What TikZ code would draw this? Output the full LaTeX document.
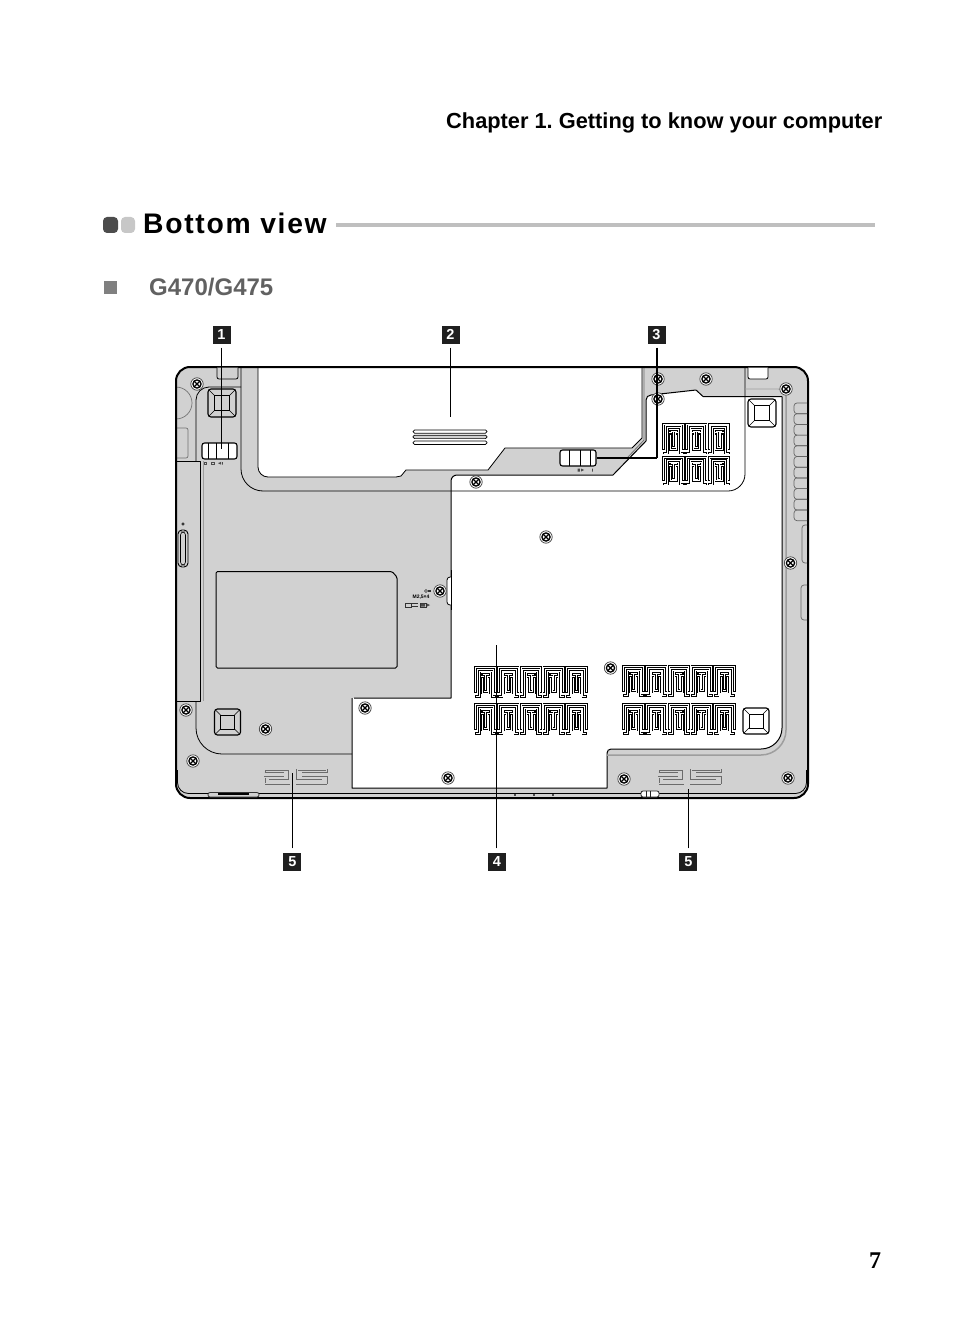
\documentclass[tikz,border=0pt]{standalone}
\usepackage{fontspec}
\setmainfont{Liberation Sans}
\newfontfamily\headfont[LetterSpace=6]{Liberation Sans}
\newfontfamily\pagefont{Liberation Serif}
\frenchspacing
\definecolor{body}{gray}{0.82}
\definecolor{band}{gray}{0.62}
\tikzset{
  outl/.style={draw=black,line width=0.8pt,line join=round},
  tag/.style={fill=black!88,text=white,inner sep=0pt,minimum width=18pt,minimum height=18pt,font=\bfseries\fontsize{14.5}{14.5}\selectfont},
  leader/.style={draw=black,line width=0.8pt},
  slotout/.style={draw=black,line width=2.5pt,line cap=rect,line join=miter},
  slotin/.style={draw=white,line width=0.95pt,line join=miter},
  gslot/.style={draw=black!58,line width=0.55pt,double=body,double distance=0.9pt,line join=miter},
  latchbox/.style={draw=black,line width=1.1pt,fill=white,rounded corners=2.5pt,inner sep=0pt},
  tinytxt/.style={inner sep=0pt,font=\bfseries\fontsize{5}{5}\selectfont},
  txt/.style={inner sep=0pt,anchor=base west}
}
\newcommand{\myscrew}[2]{%
  \begin{scope}[shift={(#1,#2)}]
    \draw[black!75,line width=0.7pt,fill=white] (0,0) circle (6.2);
    \draw[black,line width=1.3pt] (0,0) circle (4.1);
    \draw[black,line width=1.3pt] (-2.7,-2.7) -- (2.7,2.7) (-2.7,2.7) -- (2.7,-2.7);
  \end{scope}}
\newcommand{\myfoot}[4]{%
  \begin{scope}[shift={(#1,#2)},scale=#3]
    \draw[black,line width=1.1pt,fill=#4,rounded corners=3pt] (-14,-14) rectangle (14,14);
    \draw[black,line width=0.5pt] (-7.5,-7.5) rectangle (7.5,7.5);
    \draw[black,line width=0.5pt] (-13,-13) -- (-7.5,-7.5) (13,-13) -- (7.5,-7.5) (-13,13) -- (-7.5,7.5) (13,13) -- (7.5,7.5);
  \end{scope}}
% one meander unit, 22.7 wide and 32 high at scale 1
\newcommand{\ventpaths}[1]{%
  \draw[#1] (1.2,26) -- (1.2,1.5) -- (21,1.5) -- (21,26);
  \draw[#1] (1.5,30.6) -- (4.8,30.6) -- (4.8,5) -- (17.6,5) -- (17.6,30.6) -- (20.9,30.6);
  \draw[#1] (8,12.2) -- (8,27) -- (14.4,27) -- (14.4,12.2);
  \draw[#1] (11.2,23.6) -- (11.2,8.6);
  \draw[#1] (8,8.6) -- (14.4,8.6);}
\newcommand{\ventunit}[3]{%
  \begin{scope}[shift={({#1},{#2})},yscale=#3]
    \ventpaths{slotout}
    \ventpaths{slotin}
  \end{scope}}
\newcommand{\ventrow}[4]{% x, y, count, yscale
  \foreach \k in {1,...,#3} {\pgfmathsetmacro{\vx}{#1+22.7*(\k-1)}\ventunit{\vx}{#2}{#4}}}
\newcommand{\spk}[1]{%
  \begin{scope}[shift={(#1,768)}]
    \draw[gslot] (0.5,5) -- (0.5,1.5) -- (25,1.5) -- (25,12);
    \draw[gslot] (0.5,5) -- (20,5);
    \draw[gslot] (0.5,15.5) -- (0.5,9) -- (20,9);
    \draw[gslot] (0.5,15.5) -- (26,15.5);
    \draw[gslot] (5,12.3) -- (25,12.3);
    \draw[gslot] (62.5,5) -- (62.5,1.5) -- (33,1.5) -- (33,12);
    \draw[gslot] (62.5,5) -- (38,5);
    \draw[gslot] (62.5,15.5) -- (62.5,9) -- (38,9);
    \draw[gslot] (62.5,15.5) -- (32,15.5);
    \draw[gslot] (58,12.3) -- (33,12.3);
  \end{scope}}
\begin{document}
\begin{tikzpicture}[x=1pt,y=-1pt]
\useasboundingbox (0,0) rectangle (954,1337);
% header
\node[txt] (chap) at (446,128.5) {\bfseries\fontsize{21.8}{22}\selectfont Chapter 1. Getting to know your computer};
\fill[black!70,rounded corners=4pt] (103,217) rectangle (118,233);
\fill[black!22,rounded corners=4pt] (121,217) rectangle (135,233);
\node[txt] (title) at (143,234) {\headfont\bfseries\fontsize{28.3}{28}\selectfont Bottom view};
\fill[black!25] (336,223.2) rectangle (875,227);
\fill[black!50] (104,281) rectangle (117,294);
\node[txt,text=black!62] (model) at (149,295) {\bfseries\fontsize{24}{24}\selectfont G470/G475};
\node[txt] (pagenum) at (869,1268) {\pagefont\bfseries\fontsize{24}{24}\selectfont 7};
% body
\path[fill=body] (190,367) -- (794,367) arc[start angle=-90,end angle=0,radius=14] -- (808,784) arc[start angle=0,end angle=90,radius=14] -- (190,798) arc[start angle=90,end angle=180,radius=14] -- (176,381) arc[start angle=180,end angle=270,radius=14] -- cycle;
% battery + door white
\path[fill=white] (258,367) -- (258,467) arc[start angle=180,end angle=90,radius=10] -- (396,477) -- (401,476) -- (406,470) -- (488,470) -- (505,448) -- (632,448) -- (642,438) -- (642,367) -- cycle;
\path[fill=white] (352,788) -- (352,698) -- (451,698) -- (451,481) arc[start angle=180,end angle=270,radius=6] -- (613,475) -- (628,460) -- (646,441) -- (646,400) arc[start angle=180,end angle=270,radius=5] -- (696,390) -- (703,396.5) -- (782,396.5) -- (782,728) arc[start angle=0,end angle=90,radius=21] -- (611,749) arc[start angle=270,end angle=180,radius=4] -- (607,788) -- cycle;
% panel outlines
\draw[outl] (258,367) -- (258,467) arc[start angle=180,end angle=90,radius=10] -- (396,477) -- (401,476) -- (406,470) -- (488,470) -- (505,448) -- (632,448) -- (642,438) -- (642,367);
\draw[black!55,line width=0.8pt] (644,367) -- (644,440) -- (628,457);
\draw[outl,line width=1pt] (354,698) -- (451,698) -- (451,481) arc[start angle=180,end angle=270,radius=6] -- (613,475) -- (646,441) -- (646,400) arc[start angle=180,end angle=270,radius=5] -- (696,390) -- (703,396.5) -- (782,396.5);
\draw[outl,line width=1pt] (782,396.5) -- (782,728) arc[start angle=0,end angle=90,radius=21] -- (611,749) arc[start angle=270,end angle=180,radius=4] -- (607,788) -- (352,788) -- (352,698);
\draw[outl] (241,367) -- (241,469) arc[start angle=180,end angle=90,radius=22] -- (728,491) arc[start angle=90,end angle=0,radius=17] -- (745,367);
% gray stripes next to the right/bottom edge of the door
\draw[band,line width=1.5pt] (786,396) -- (786,730) arc[start angle=0,end angle=90,radius=25] -- (607,755);
\draw[band,line width=0.8pt] (745,389) -- (778,389) arc[start angle=-90,end angle=0,radius=8] -- (786,400);
% left door and corners
\draw[outl] (176,461) -- (200,461) -- (200,701) -- (176,701);
\draw[band,line width=1pt] (203,461) -- (203,701);
\draw[outl] (196,461) -- (196,400) arc[start angle=180,end angle=270,radius=13] -- (241,387);
\draw[outl] (196,701) -- (196,728) arc[start angle=180,end angle=90,radius=26] -- (352,754);
\draw[black!55,line width=0.7pt] (176,387) arc[start angle=-90,end angle=90,radius=16];
\draw[black!55,line width=0.7pt,rounded corners=2pt] (176,428) -- (188,428) -- (188,458) -- (176,458);
% bottom inner edge and outer shell
\draw[outl,rounded corners=11pt] (177.5,770) -- (177.5,793.5) -- (806.5,793.5) -- (806.5,770);
\draw[black,line width=2pt] (190,367) -- (794,367) arc[start angle=-90,end angle=0,radius=14] -- (808,784) arc[start angle=0,end angle=90,radius=14] -- (190,798) arc[start angle=90,end angle=180,radius=14] -- (176,381) arc[start angle=180,end angle=270,radius=14] -- cycle;
% top notches
\draw[outl,fill=body,rounded corners=2pt] (217,367.5) -- (217,379) -- (238,379) -- (238,367.5);
\draw[outl,fill=white,rounded corners=2pt] (748,367.5) -- (748,379) -- (768,379) -- (768,367.5);
% right edge ribs
\foreach \r in {0,...,10} {
  \draw[black!60,line width=0.7pt,rounded corners=3pt] (807,403+\r*10.7) -- (794,403+\r*10.7) -- (794,413.7+\r*10.7) -- (807,413.7+\r*10.7);}
\draw[black!60,line width=0.7pt,rounded corners=3pt] (807,525) -- (802,525) -- (802,563) -- (807,563);
\draw[black!60,line width=0.7pt,rounded corners=3pt] (807,585) -- (801,585) -- (801,620) -- (807,620);
% left button
\draw[black,line width=0.6pt] (183,524) circle (1.3);
\draw[black,line width=0.9pt,fill=body,rounded corners=4pt] (178,530) rectangle (188,567);
\draw[black,line width=0.6pt,rounded corners=3pt] (180.5,532) rectangle (185.5,565);
% bottom pills and dots
\draw[black!80,line width=0.8pt,fill=body,rounded corners=2pt] (208,792.5) rectangle (259,797);
\draw[black,line width=1.6pt] (218,794) -- (249,794);
\draw[black!85,line width=0.8pt,fill=white,rounded corners=2pt] (641,791) rectangle (659,797);
\draw[black!85,line width=0.7pt] (646,791) -- (646,797) (650,791) -- (650,797);
\foreach \dx in {515,534,553} {\fill[black!70] (\dx-1,794) rectangle (\dx+1,796);}
% memory door
\draw[outl,fill=body,line width=1pt,rounded corners=1.5pt] (216,571.5) -- (392,571.5) -- (397,577) -- (397,668) -- (216,668) -- cycle;
% battery grip
\draw[black,line width=0.7pt,fill=white,rounded corners=1.5pt] (413,430) rectangle (487,433.2);
\draw[black,line width=0.7pt,fill=body,rounded corners=1.5pt] (413,435.2) rectangle (487,438.6);
\draw[black,line width=0.7pt,fill=white,rounded corners=1.5pt] (413,441) rectangle (487,444.4);
% feet
\myfoot{222}{403}{1}{body}
\myfoot{227.5}{722}{0.93}{body}
\myfoot{762}{413}{1}{white}
\myfoot{756}{721}{0.93}{white}
% latches
\node[latchbox,minimum width=35pt,minimum height=16pt] (latchA) at (219.5,451) {};
\draw[black,line width=0.7pt] (208,443) -- (208,459) (216,443) -- (216,459) (228,443) -- (228,459);
\node[latchbox,minimum width=36pt,minimum height=16pt] (latchB) at (578,458) {};
\draw[black,line width=0.7pt] (569,450) -- (569,466) (580,450) -- (580,466) (590,450) -- (590,466);
% latch markings
\draw[black!70,line width=0.4pt] (204,462) rectangle (206.5,464.5) (211.5,462) rectangle (214,464.5);
\fill[black!70] (218,463.2) -- (221,461.8) -- (221,464.6) -- cycle (222,462) rectangle (222.8,464.6);
\fill[black!70] (581,468.5) -- (584,470) -- (581,471.5) -- cycle (577.5,468.5) rectangle (579.8,471.5) (592,468.5) rectangle (592.8,471.5);
% screw tab with its markings
\draw[outl,fill=white,rounded corners=3pt] (451,577) -- (447,577) -- (447,605) -- (451,605);
\draw[outl] (451,570) -- (451,610);
\node[tinytxt] (mlabel) at (421,597) {M2,5×4};
\draw[black!80,line width=0.5pt] (426,591) circle (1.5);
\fill[black!80] (428,590) rectangle (431,592);
\draw[black!80,line width=0.5pt] (405,603) rectangle (411,607) (412,603.6) -- (418,603.6) (412,606.4) -- (418,606.4) (420,603) rectangle (426,607);
\fill[black!70] (421,603.5) rectangle (425,606.5) (427,603.5) -- (430,605) -- (427,606.5) -- cycle;
% screws
\foreach \a/\b in {197/384,658/379,658/399,706/379,476/482,546/537,440/591,610.5/668,186/710,265.5/729,193/761,365/708,448/778,624/779,788/778,786/389,790.5/563} {\myscrew{\a}{\b}}
% vents
\ventrow{662.5}{422.5}{3}{1}
\ventrow{662.5}{456}{3}{0.92}
\ventrow{474.5}{666}{5}{1}
\ventrow{474.5}{703}{5}{1}
\ventrow{622.5}{665}{5}{1}
\ventrow{622.5}{703}{5}{1}
\spk{264}
\spk{658}
% callouts
\node[tag] (t1) at (221.5,334.5) {1};
\node[tag] (t2) at (450.5,334.5) {2};
\node[tag] (t3) at (656.5,334.5) {3};
\node[tag] (t4) at (496.8,862) {4};
\node[tag] (t5a) at (292.3,862) {5};
\node[tag] (t5b) at (688.3,862) {5};
\coordinate (catchA) at (221.5,449);
\coordinate (battery) at (450.5,417);
\coordinate (door) at (496.8,645);
\coordinate (spkA) at (292.3,773);
\coordinate (spkB) at (688.3,789);
\coordinate (bend) at (656.8,458);
\draw[leader] (t1.south) ++(0,4) -- (catchA);
\draw[leader] (t2.south) ++(0,4) -- (battery);
\draw[leader,line width=1.9pt] (t3.south) ++(0.3,4) -- (bend);
\draw[leader,line width=1.1pt] (bend) -- (latchB.east);
\draw[leader] (t4.north) ++(0,-4.5) -- (door);
\draw[leader] (t5a.north) ++(0,-4.5) -- (spkA);
\draw[leader] (t5b.north) ++(0,-4.5) -- (spkB);
\end{tikzpicture}
\end{document}
